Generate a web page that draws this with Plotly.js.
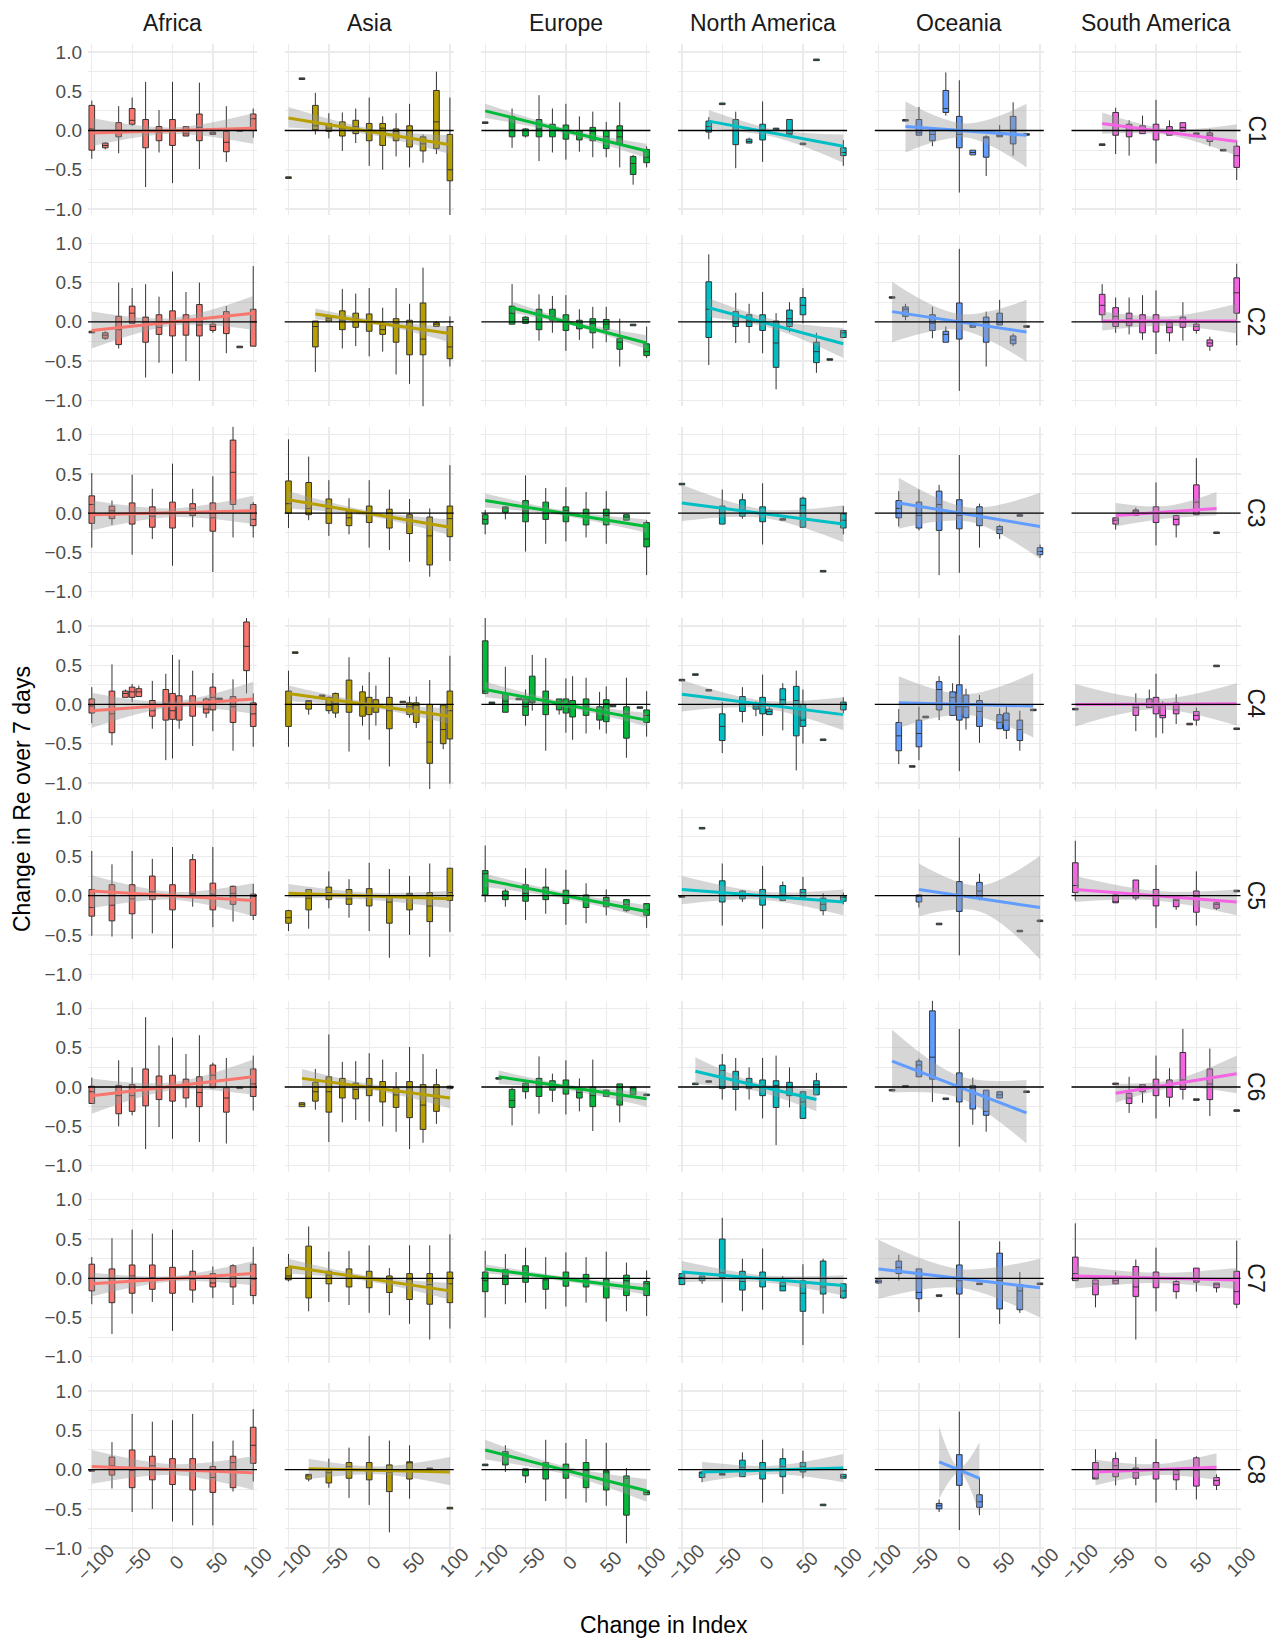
<!DOCTYPE html>
<html>
<head>
<meta charset="utf-8">
<script src="https://cdn.plot.ly/plotly-3.0.1.min.js"></script>
<style>html, body { margin: 0; padding: 0; background: #fff; }</style>
</head>
<body>
<div id="chart" style="width:1278px;height:1638px"></div>
<script>
var regions = ['Africa', 'Asia', 'Europe', 'North America', 'Oceania', 'South America'];
var measures = ['C1', 'C2', 'C3', 'C4', 'C5', 'C6', 'C7', 'C8'];
var regionColors = ['#F8766D', '#B79F00', '#00BA38', '#00BFC4', '#619CFF', '#F564E3'];
var xTickVals = [-100, -50, 0, 50, 100];
var xTickText = ['\u2212100', '\u221250', '0', '50', '100'];
var yTickVals = [-1, -0.5, 0, 0.5, 1];
var yTickText = ['\u22121.0', '\u22120.5', '0.0', '0.5', '1.0'];
var yMinorVals = [-0.75, -0.25, 0.25, 0.75];

// box stats, one row per box: [change in index, lower whisker, q1, median, q3, upper whisker]
var AF_C1 = [[-100,-0.36,-0.25,0.02,0.32,0.38],[-83.3,-0.24,-0.22,-0.19,-0.16,-0.15],[-66.7,-0.29,-0.08,-0.03,0.10,0.31],[-50,0.06,0.08,0.13,0.28,0.42],[-33.3,-0.72,-0.22,0.0,0.14,0.62],[-16.7,-0.28,-0.13,-0.02,0.05,0.26],[0,-0.67,-0.19,0.0,0.14,0.62],[16.7,-0.07,-0.07,-0.04,0.05,0.05],[33.3,-0.49,-0.13,0.04,0.21,0.61],[50,-0.05,-0.05,-0.03,-0.02,-0.02],[66.7,-0.40,-0.27,-0.15,-0.01,0.31],[83.3,-0.01,-0.01,0.0,0.01,0.01],[100,-0.09,0.0,0.15,0.21,0.28]];
var AS_C1 = [[-100,-0.61,-0.61,-0.60,-0.59,-0.59],[-83.3,0.65,0.65,0.66,0.67,0.67],[-66.7,-0.05,0.01,0.06,0.32,0.48],[-50,-0.10,-0.01,0.03,0.09,0.22],[-33.3,-0.26,-0.07,0.03,0.11,0.23],[-16.7,-0.16,-0.04,0.05,0.13,0.28],[0,-0.45,-0.13,0.01,0.09,0.42],[16.7,-0.50,-0.19,0.03,0.09,0.18],[33.3,-0.33,-0.13,-0.01,0.02,0.22],[50,-0.47,-0.21,0.0,0.06,0.34],[66.7,-0.41,-0.26,-0.17,-0.08,-0.05],[83.3,-0.30,-0.23,0.11,0.51,0.75],[100,-1.10,-0.64,-0.50,-0.05,0.42]];
var EU_C1 = [[-100,0.09,0.09,0.10,0.11,0.11],[-66.7,-0.22,-0.08,0.01,0.18,0.28],[-50,-0.09,-0.07,0.0,0.02,0.03],[-33.3,-0.39,-0.08,0.02,0.14,0.45],[-16.7,-0.28,-0.08,0.03,0.08,0.28],[0,-0.37,-0.11,0.0,0.07,0.34],[16.7,-0.27,-0.12,-0.04,0.0,0.18],[33.3,-0.34,-0.13,-0.01,0.04,0.24],[50,-0.34,-0.23,-0.08,0.0,0.11],[66.7,-0.47,-0.17,-0.08,0.06,0.36],[83.3,-0.69,-0.56,-0.42,-0.33,-0.31],[100,-0.47,-0.41,-0.34,-0.24,-0.20]];
var NA_C1 = [[-66.7,-0.11,-0.02,0.05,0.12,0.17],[-50,0.33,0.33,0.34,0.35,0.35],[-33.3,-0.48,-0.18,0.05,0.14,0.24],[-16.7,-0.16,-0.16,-0.14,-0.11,-0.09],[0,-0.40,-0.12,0.01,0.08,0.37],[16.7,0.01,0.01,0.02,0.03,0.03],[33.3,-0.05,-0.05,-0.04,0.14,0.14],[50,-0.18,-0.18,-0.17,-0.16,-0.16],[66.7,0.89,0.89,0.90,0.91,0.91],[100,-0.45,-0.32,-0.28,-0.22,-0.12]];
var OC_C1 = [[-66.7,0.12,0.12,0.13,0.14,0.14],[-50,-0.06,-0.06,-0.03,0.14,0.30],[-33.3,-0.20,-0.13,-0.05,0.02,0.02],[-16.7,0.19,0.23,0.28,0.51,0.74],[0,-0.79,-0.22,-0.05,0.18,0.64],[16.7,-0.31,-0.31,-0.28,-0.25,-0.25],[33.3,-0.58,-0.34,-0.08,-0.08,-0.06],[50,-0.08,-0.08,-0.06,-0.03,0.07],[66.7,-0.32,-0.17,0.0,0.18,0.36],[83.3,-0.06,-0.06,-0.05,-0.04,-0.04]];
var SA_C1 = [[-66.7,-0.19,-0.19,-0.18,-0.17,-0.17],[-50,-0.30,-0.06,0.06,0.23,0.29],[-33.3,-0.32,-0.08,0.0,0.08,0.13],[-16.7,-0.04,-0.04,0.02,0.06,0.19],[0,-0.42,-0.12,0.0,0.08,0.39],[16.7,-0.06,-0.06,0.0,0.05,0.13],[33.3,-0.01,-0.01,0.04,0.10,0.10],[50,-0.05,-0.05,-0.04,-0.03,-0.03],[66.7,-0.20,-0.14,-0.06,-0.03,0.02],[83.3,-0.26,-0.26,-0.25,-0.24,-0.24],[100,-0.63,-0.47,-0.32,-0.20,-0.12]];

var AF_C2 = [[-100,-0.14,-0.14,-0.13,-0.12,-0.12],[-83.3,-0.23,-0.21,-0.17,-0.14,-0.12],[-66.7,-0.34,-0.29,-0.10,0.07,0.50],[-50,-0.02,-0.02,0.11,0.20,0.43],[-33.3,-0.71,-0.26,0.0,0.06,0.48],[-16.7,-0.52,-0.16,-0.07,0.09,0.32],[0,-0.66,-0.18,0.0,0.14,0.64],[16.7,-0.50,-0.17,0.0,0.09,0.38],[33.3,-0.75,-0.18,-0.04,0.22,0.50],[50,-0.14,-0.11,-0.06,-0.03,-0.01],[66.7,-0.40,-0.15,0.08,0.13,0.20],[83.3,-0.33,-0.33,-0.32,-0.31,-0.31],[100,-0.31,-0.31,0.0,0.16,0.71]];
var AS_C2 = [[-66.7,-0.64,-0.32,-0.06,0.01,0.01],[-50,0.0,0.01,0.04,0.06,0.09],[-33.3,-0.34,-0.10,0.02,0.14,0.42],[-16.7,-0.31,-0.07,0.04,0.11,0.36],[0,-0.44,-0.12,0.0,0.10,0.43],[16.7,-0.38,-0.16,-0.10,-0.04,0.18],[33.3,-0.67,-0.26,-0.02,0.04,0.43],[50,-0.79,-0.42,-0.06,0.02,0.23],[66.7,-1.10,-0.42,-0.22,0.24,0.69],[83.3,-0.06,-0.06,-0.03,-0.01,0.01],[100,-0.57,-0.47,-0.32,-0.06,0.07]];
var EU_C2 = [[-66.7,-0.03,-0.03,0.11,0.20,0.48],[-50,-0.02,-0.02,0.03,0.06,0.07],[-33.3,-0.24,-0.10,0.09,0.16,0.35],[-16.7,-0.14,0.02,0.07,0.16,0.33],[0,-0.37,-0.11,0.02,0.09,0.34],[16.7,-0.23,-0.09,-0.02,0.02,0.16],[33.3,-0.34,-0.14,-0.02,0.04,0.19],[50,-0.26,-0.10,-0.03,0.03,0.19],[66.7,-0.57,-0.35,-0.26,-0.21,0.04],[83.3,-0.05,-0.05,-0.04,-0.03,-0.03],[100,-0.46,-0.43,-0.38,-0.28,-0.06]];
var NA_C2 = [[-66.7,-0.55,-0.20,0.16,0.51,0.86],[-33.3,-0.27,-0.06,-0.02,0.13,0.37],[-16.7,-0.27,-0.06,0.02,0.09,0.23],[0,-0.40,-0.11,0.0,0.09,0.38],[16.7,-0.86,-0.58,-0.27,0.01,0.11],[33.3,-0.13,-0.06,0.04,0.15,0.25],[50,-0.02,0.09,0.21,0.31,0.43],[66.7,-0.65,-0.52,-0.38,-0.26,-0.14],[83.3,-0.49,-0.49,-0.48,-0.47,-0.47],[100,-0.20,-0.20,-0.14,-0.11,-0.11]];
var OC_C2 = [[-83.3,0.30,0.30,0.31,0.32,0.32],[-66.7,0.02,0.07,0.16,0.19,0.23],[-33.3,-0.21,-0.11,-0.02,0.09,0.19],[-16.7,-0.26,-0.26,-0.16,-0.12,-0.06],[0,-0.88,-0.22,0.0,0.24,0.93],[16.7,-0.07,-0.07,-0.05,-0.02,-0.02],[33.3,-0.57,-0.26,-0.01,0.06,0.13],[50,-0.04,-0.04,-0.01,0.11,0.28],[66.7,-0.31,-0.28,-0.23,-0.18,-0.15],[83.3,-0.07,-0.07,-0.06,-0.05,-0.05]];
var SA_C2 = [[-66.7,0.0,0.09,0.21,0.35,0.48],[-50,-0.14,-0.06,0.07,0.18,0.31],[-33.3,-0.16,-0.05,0.04,0.11,0.31],[-16.7,-0.23,-0.14,0.0,0.09,0.34],[0,-0.41,-0.13,0.0,0.09,0.40],[16.7,-0.25,-0.14,-0.07,-0.01,0.03],[33.3,-0.24,-0.07,0.0,0.06,0.25],[50,-0.15,-0.11,-0.06,-0.03,-0.01],[66.7,-0.37,-0.31,-0.27,-0.23,-0.19],[100,-0.30,0.11,0.37,0.56,0.74]];

var AF_C3 = [[-100,-0.44,-0.13,0.11,0.22,0.51],[-75,-0.15,-0.07,0.03,0.09,0.16],[-50,-0.53,-0.14,0.0,0.13,0.49],[-25,-0.33,-0.18,-0.04,0.08,0.31],[0,-0.67,-0.19,0.0,0.14,0.63],[25,-0.18,-0.03,0.06,0.12,0.31],[50,-0.75,-0.23,-0.06,0.13,0.47],[75,-0.31,0.11,0.52,0.93,1.10],[100,-0.31,-0.16,-0.08,0.11,0.14]];
var AS_C3 = [[-100,-0.19,0.0,0.12,0.41,0.94],[-75,-0.09,-0.02,0.06,0.39,0.72],[-50,-0.29,-0.13,0.06,0.18,0.42],[-25,-0.27,-0.16,-0.06,0.03,0.19],[0,-0.44,-0.12,0.0,0.09,0.42],[25,-0.47,-0.19,0.0,0.05,0.30],[50,-0.62,-0.26,-0.05,-0.02,0.18],[75,-0.81,-0.66,-0.29,-0.05,0.06],[100,-0.61,-0.30,-0.07,0.09,0.61]];
var EU_C3 = [[-100,-0.27,-0.14,-0.08,-0.02,0.04],[-75,-0.08,0.01,0.06,0.08,0.09],[-50,-0.49,-0.11,0.03,0.16,0.48],[-25,-0.39,-0.08,0.03,0.14,0.32],[0,-0.36,-0.11,0.03,0.08,0.33],[25,-0.31,-0.15,-0.03,0.05,0.27],[50,-0.39,-0.15,-0.03,0.05,0.28],[75,-0.09,-0.09,-0.05,-0.02,-0.02],[100,-0.79,-0.43,-0.33,-0.12,-0.09]];
var NA_C3 = [[-100,0.36,0.36,0.37,0.38,0.38],[-50,-0.14,-0.14,0.06,0.09,0.30],[-25,-0.07,-0.04,0.04,0.17,0.25],[0,-0.40,-0.11,0.0,0.08,0.38],[25,-0.09,-0.09,-0.08,-0.07,-0.07],[50,-0.18,-0.18,0.10,0.19,0.21],[75,-0.75,-0.75,-0.74,-0.73,-0.73],[100,-0.27,-0.19,-0.09,-0.01,0.09]];
var OC_C3 = [[-75,-0.17,-0.06,0.06,0.16,0.28],[-50,-0.22,-0.19,-0.03,0.14,0.30],[-25,-0.79,-0.22,0.11,0.28,0.36],[0,-0.76,-0.20,-0.03,0.17,0.74],[25,-0.44,-0.16,-0.01,0.08,0.12],[50,-0.33,-0.26,-0.21,-0.17,-0.15],[75,-0.04,-0.04,-0.03,-0.02,-0.02],[100,-0.57,-0.53,-0.49,-0.44,-0.40]];
var SA_C3 = [[-50,-0.21,-0.14,-0.09,-0.06,-0.06],[-25,-0.03,-0.03,0.03,0.04,0.07],[0,-0.41,-0.12,0.0,0.08,0.39],[25,-0.31,-0.15,-0.08,-0.03,-0.02],[50,-0.02,-0.02,0.14,0.36,0.70],[75,-0.26,-0.26,-0.25,-0.24,-0.24]];

var AF_C4 = [[-100,-0.24,-0.11,-0.02,0.07,0.22],[-75,-0.52,-0.36,-0.12,0.17,0.51],[-58.3,0.09,0.09,0.14,0.17,0.19],[-50,0.03,0.09,0.16,0.22,0.26],[-41.7,0.10,0.10,0.16,0.20,0.24],[-25,-0.31,-0.15,-0.08,0.05,0.30],[-8.3,-0.71,-0.20,0.01,0.19,0.39],[0,-0.69,-0.19,-0.08,0.14,0.63],[8.3,-0.31,-0.20,-0.01,0.11,0.57],[25,-0.53,-0.15,0.01,0.11,0.43],[41.7,-0.17,-0.11,-0.06,0.07,0.09],[50,-0.34,-0.07,0.09,0.22,0.40],[58.3,0.06,0.06,0.07,0.08,0.08],[75,-0.59,-0.23,-0.03,0.10,0.32],[91.7,0.14,0.43,0.74,1.05,1.10],[100,-0.54,-0.28,-0.12,0.02,0.14]];
var AS_C4 = [[-100,-0.54,-0.28,0.0,0.17,0.43],[-91.7,0.65,0.65,0.66,0.67,0.67],[-75,-0.13,-0.06,0.04,0.05,0.05],[-58.3,0.10,0.10,0.11,0.12,0.12],[-50,-0.12,-0.08,-0.01,0.09,0.10],[-41.7,-0.17,-0.11,0.01,0.14,0.15],[-25,-0.60,-0.10,0.03,0.31,0.60],[-8.3,-0.27,-0.15,-0.01,0.16,0.24],[0,-0.45,-0.13,0.0,0.09,0.41],[8.3,-0.27,-0.10,-0.03,0.06,0.24],[25,-0.79,-0.31,-0.08,0.09,0.60],[41.7,0.02,0.02,0.03,0.04,0.04],[50,-0.17,-0.13,-0.03,0.02,0.10],[58.3,-0.30,-0.23,-0.01,0.02,0.10],[75,-1.08,-0.75,-0.48,0.0,0.31],[91.7,-0.57,-0.50,-0.32,-0.01,-0.01],[100,-1.01,-0.44,-0.08,0.17,0.62]];
var EU_C4 = [[-100,0.13,0.14,0.17,0.81,1.10],[-91.7,0.01,0.01,0.02,0.03,0.03],[-75,-0.10,-0.10,0.04,0.14,0.48],[-58.3,0.06,0.06,0.07,0.08,0.08],[-50,-0.27,-0.14,-0.03,0.07,0.19],[-41.7,-0.08,0.02,0.04,0.36,0.63],[-25,-0.59,-0.13,0.06,0.17,0.59],[-8.3,-0.13,-0.07,0.03,0.07,0.07],[0,-0.36,-0.11,0.01,0.07,0.33],[8.3,-0.45,-0.16,-0.01,0.05,0.36],[25,-0.37,-0.14,-0.03,0.07,0.34],[41.7,-0.32,-0.20,-0.08,-0.03,0.16],[50,-0.37,-0.22,0.01,0.06,0.23],[58.3,-0.03,-0.03,-0.02,-0.01,-0.01],[75,-0.68,-0.43,-0.12,-0.03,0.34],[91.7,-0.05,-0.05,-0.04,-0.03,-0.03],[100,-0.41,-0.23,-0.14,-0.07,0.17]];
var NA_C4 = [[-100,0.30,0.30,0.31,0.32,0.32],[-83.3,0.37,0.37,0.38,0.39,0.39],[-66.7,0.17,0.17,0.18,0.19,0.19],[-50,-0.62,-0.46,-0.28,-0.12,0.03],[-25,-0.23,-0.09,0.02,0.10,0.22],[-8.3,-0.15,-0.06,-0.03,0.0,0.04],[0,-0.40,-0.12,-0.02,0.09,0.38],[8.3,-0.13,-0.13,-0.09,-0.06,-0.03],[25,-0.33,0.0,0.06,0.20,0.27],[41.7,-0.84,-0.40,0.05,0.23,0.43],[50,-0.50,-0.28,-0.20,0.0,0.19],[75,-0.46,-0.46,-0.45,-0.44,-0.44],[100,-0.11,-0.07,0.0,0.03,0.09]];
var OC_C4 = [[-75,-0.76,-0.59,-0.40,-0.23,-0.06],[-58.3,-0.80,-0.80,-0.79,-0.78,-0.78],[-50,-0.71,-0.54,-0.37,-0.20,-0.03],[-41.7,-0.17,-0.17,-0.16,-0.15,-0.15],[-25,-0.20,-0.07,0.19,0.29,0.36],[-8.3,-0.14,-0.14,0.09,0.16,0.27],[0,-0.85,-0.20,-0.03,0.25,0.88],[8.3,-0.32,-0.17,-0.03,0.12,0.20],[25,-0.49,-0.28,-0.09,0.05,0.12],[50,-0.31,-0.31,-0.23,-0.13,-0.05],[58.3,-0.44,-0.33,-0.20,-0.11,-0.01],[75,-0.59,-0.46,-0.32,-0.20,-0.08],[91.7,-0.08,-0.08,-0.07,-0.06,-0.06]];
var SA_C4 = [[-100,-0.07,-0.07,-0.06,-0.05,-0.05],[-25,-0.34,-0.14,-0.04,-0.01,0.14],[-8.3,-0.04,-0.04,0.01,0.07,0.19],[0,-0.42,-0.12,-0.01,0.09,0.39],[8.3,-0.37,-0.17,-0.14,-0.01,0.04],[25,-0.25,-0.12,-0.07,0.02,0.13],[41.7,-0.26,-0.26,-0.25,-0.24,-0.24],[50,-0.27,-0.20,-0.14,-0.09,-0.04],[75,0.48,0.48,0.49,0.50,0.50],[100,-0.32,-0.32,-0.31,-0.30,-0.30]];

var AF_C5 = [[-100,-0.51,-0.26,-0.15,0.08,0.57],[-75,-0.52,-0.32,-0.12,0.14,0.40],[-50,-0.55,-0.23,-0.04,0.14,0.57],[-25,-0.48,-0.05,0.05,0.25,0.47],[0,-0.67,-0.18,0.0,0.14,0.62],[25,-0.14,0.01,0.03,0.46,0.53],[50,-0.40,-0.18,0.02,0.16,0.62],[75,-0.33,-0.11,0.03,0.12,0.13],[100,-0.31,-0.25,-0.01,0.02,0.15]];
var AS_C5 = [[-100,-0.45,-0.35,-0.28,-0.19,-0.18],[-75,-0.42,-0.18,-0.03,0.08,0.08],[-50,-0.16,-0.05,0.04,0.11,0.31],[-25,-0.28,-0.11,-0.04,0.08,0.21],[0,-0.45,-0.13,-0.01,0.09,0.42],[25,-0.79,-0.35,-0.08,-0.02,0.34],[50,-0.50,-0.18,0.01,0.03,0.25],[75,-0.78,-0.33,-0.13,0.04,0.41],[100,-0.46,-0.06,0.04,0.35,0.35]];
var EU_C5 = [[-100,-0.08,0.01,0.28,0.32,0.64],[-75,-0.14,-0.05,0.01,0.06,0.09],[-50,-0.31,-0.07,0.03,0.14,0.35],[-25,-0.23,-0.05,0.05,0.11,0.35],[0,-0.37,-0.10,0.0,0.07,0.33],[25,-0.35,-0.15,-0.04,0.01,0.16],[50,-0.25,-0.14,-0.06,-0.02,0.08],[75,-0.21,-0.19,-0.11,-0.05,-0.04],[100,-0.41,-0.25,-0.18,-0.10,-0.10]];
var NA_C5 = [[-100,-0.02,-0.02,-0.01,0.0,0.0],[-75,0.85,0.85,0.86,0.87,0.87],[-50,-0.38,-0.08,0.04,0.19,0.41],[-25,-0.08,-0.04,0.0,0.06,0.07],[0,-0.42,-0.12,-0.01,0.08,0.38],[25,-0.06,-0.06,0.01,0.13,0.18],[50,-0.02,-0.02,0.04,0.08,0.24],[75,-0.25,-0.19,-0.11,-0.03,0.03],[100,-0.11,-0.07,-0.02,0.0,0.04]];
var OC_C5 = [[-50,-0.15,-0.08,-0.01,0.01,0.01],[-25,-0.37,-0.37,-0.36,-0.35,-0.35],[0,-0.76,-0.20,0.0,0.18,0.74],[25,-0.06,-0.02,0.06,0.17,0.28],[75,-0.46,-0.46,-0.45,-0.44,-0.44],[100,-0.33,-0.33,-0.32,-0.31,-0.31]];
var SA_C5 = [[-100,-0.06,0.04,0.13,0.42,0.70],[-50,-0.09,-0.09,-0.08,0.01,0.02],[-25,-0.06,-0.03,0.02,0.20,0.20],[0,-0.41,-0.13,0.01,0.08,0.39],[25,-0.18,-0.14,-0.06,-0.04,-0.02],[50,-0.38,-0.21,-0.01,0.06,0.31],[75,-0.18,-0.16,-0.11,-0.09,-0.08],[100,0.05,0.05,0.06,0.07,0.07]];

var AF_C6 = [[-100,-0.21,-0.21,-0.06,0.01,0.12],[-66.7,-0.50,-0.34,-0.11,0.02,0.34],[-50,-0.36,-0.31,-0.11,0.03,0.25],[-33.3,-0.79,-0.24,0.0,0.23,0.89],[-16.7,-0.51,-0.16,0.01,0.14,0.53],[0,-0.66,-0.18,0.02,0.15,0.63],[16.7,-0.26,-0.14,0.02,0.10,0.42],[33.3,-0.70,-0.25,-0.07,0.13,0.66],[50,-0.01,-0.01,0.15,0.28,0.31],[66.7,-0.72,-0.32,-0.14,-0.01,0.37],[83.3,-0.02,-0.02,-0.01,0.0,0.0],[100,-0.30,-0.12,0.04,0.23,0.40]];
var AS_C6 = [[-83.3,-0.25,-0.25,-0.22,-0.20,-0.20],[-66.7,-0.29,-0.18,-0.06,0.06,0.23],[-50,-0.70,-0.32,-0.06,0.13,0.67],[-33.3,-0.45,-0.14,0.04,0.11,0.32],[-16.7,-0.42,-0.15,-0.03,0.05,0.33],[0,-0.44,-0.11,0.02,0.11,0.43],[16.7,-0.50,-0.19,0.0,0.07,0.35],[33.3,-0.57,-0.26,-0.10,-0.01,0.19],[50,-0.79,-0.39,-0.01,0.07,0.51],[66.7,-0.71,-0.54,-0.23,0.03,0.42],[83.3,-0.47,-0.31,-0.14,0.03,0.23],[100,-0.03,-0.02,-0.01,0.01,0.02]];
var EU_C6 = [[-83.3,0.10,0.10,0.11,0.12,0.12],[-66.7,-0.49,-0.26,-0.17,-0.03,-0.01],[-50,-0.15,-0.06,0.0,0.05,0.06],[-33.3,-0.34,-0.12,0.04,0.11,0.39],[-16.7,-0.19,-0.04,0.02,0.08,0.17],[0,-0.35,-0.09,0.02,0.09,0.34],[16.7,-0.31,-0.14,-0.07,-0.03,0.11],[33.3,-0.56,-0.25,-0.11,0.0,0.35],[50,-0.12,-0.12,-0.07,-0.04,-0.03],[66.7,-0.45,-0.23,-0.11,0.04,0.04],[83.3,-0.10,-0.10,-0.01,0.0,0.0],[100,-0.11,-0.11,-0.10,-0.09,-0.09]];
var NA_C6 = [[-83.3,0.03,0.03,0.04,0.05,0.05],[-66.7,0.06,0.06,0.07,0.08,0.08],[-50,-0.16,-0.02,0.21,0.28,0.42],[-33.3,-0.30,-0.03,0.09,0.20,0.37],[-16.7,-0.16,-0.02,0.06,0.11,0.25],[0,-0.40,-0.11,0.02,0.09,0.37],[16.7,-0.74,-0.26,0.02,0.08,0.40],[33.3,-0.26,-0.11,0.0,0.06,0.25],[50,-0.40,-0.40,-0.19,-0.06,-0.06],[66.7,-0.10,-0.10,0.03,0.08,0.18]];
var OC_C6 = [[-83.3,-0.05,-0.05,-0.04,-0.03,-0.03],[-66.7,0.0,0.0,0.01,0.02,0.02],[-50,0.13,0.13,0.28,0.33,0.36],[-33.3,-0.19,0.10,0.38,0.97,1.10],[-16.7,-0.16,-0.16,-0.15,-0.14,-0.14],[0,-0.76,-0.19,0.0,0.18,0.74],[16.7,-0.48,-0.28,-0.02,0.02,0.12],[33.3,-0.57,-0.36,-0.31,-0.04,-0.04],[50,-0.14,-0.14,-0.10,-0.06,-0.06],[83.3,-0.07,-0.07,-0.06,-0.05,-0.05]];
var SA_C6 = [[-50,0.03,0.03,0.04,0.05,0.05],[-33.3,-0.33,-0.21,-0.14,-0.08,0.13],[-16.7,-0.20,-0.06,-0.01,0.03,0.03],[0,-0.40,-0.11,0.02,0.10,0.40],[16.7,-0.25,-0.13,0.0,0.09,0.24],[33.3,-0.16,-0.03,0.09,0.44,0.74],[50,-0.17,-0.17,-0.16,-0.15,-0.15],[66.7,-0.37,-0.16,0.04,0.23,0.49],[100,-0.31,-0.31,-0.30,-0.29,-0.29]];

var AF_C7 = [[-100,-0.33,-0.16,0.0,0.18,0.27],[-75,-0.71,-0.31,-0.05,0.12,0.51],[-50,-0.45,-0.19,0.03,0.17,0.62],[-25,-0.30,-0.14,0.01,0.17,0.57],[0,-0.67,-0.19,0.0,0.14,0.62],[25,-0.31,-0.15,-0.01,0.09,0.36],[50,-0.25,-0.11,-0.06,0.06,0.15],[75,-0.34,-0.11,0.03,0.16,0.18],[100,-0.33,-0.22,-0.01,0.18,0.40]];
var AS_C7 = [[-100,-0.04,-0.02,0.03,0.14,0.31],[-75,-0.42,-0.25,0.0,0.41,0.66],[-50,-0.30,-0.07,0.04,0.09,0.34],[-25,-0.34,-0.11,0.03,0.12,0.35],[0,-0.44,-0.12,0.0,0.09,0.42],[25,-0.47,-0.18,-0.02,0.03,0.13],[50,-0.58,-0.27,-0.01,0.06,0.42],[75,-0.78,-0.33,-0.08,0.06,0.42],[100,-0.64,-0.31,-0.07,0.08,0.56]];
var EU_C7 = [[-100,-0.50,-0.17,-0.03,0.08,0.35],[-75,-0.33,-0.08,0.03,0.11,0.31],[-50,-0.31,-0.05,0.07,0.16,0.39],[-25,-0.39,-0.14,-0.02,0.0,0.27],[0,-0.36,-0.10,0.01,0.08,0.33],[25,-0.31,-0.11,-0.02,0.05,0.27],[50,-0.55,-0.25,-0.08,-0.01,0.34],[75,-0.42,-0.22,-0.03,0.04,0.20],[100,-0.48,-0.22,-0.07,-0.04,0.10]];
var NA_C7 = [[-100,-0.08,-0.08,0.01,0.06,0.06],[-75,-0.07,-0.03,0.0,0.03,0.03],[-50,-0.31,0.01,0.07,0.50,0.77],[-25,-0.42,-0.15,-0.04,0.09,0.25],[0,-0.40,-0.11,0.0,0.08,0.38],[25,-0.16,-0.16,-0.10,-0.05,0.03],[50,-0.85,-0.42,-0.19,-0.03,0.18],[75,-0.45,-0.20,-0.11,0.22,0.25],[100,-0.26,-0.25,-0.16,-0.07,-0.06]];
var OC_C7 = [[-100,-0.07,-0.06,-0.04,-0.02,-0.02],[-75,-0.03,0.06,0.14,0.22,0.30],[-50,-0.43,-0.26,-0.18,0.12,0.12],[-25,-0.23,-0.23,-0.22,-0.21,-0.21],[0,-0.76,-0.20,-0.03,0.17,0.73],[25,-0.08,-0.08,-0.07,-0.06,-0.06],[50,-0.58,-0.39,-0.03,0.32,0.47],[75,-0.44,-0.40,-0.16,-0.08,0.08],[100,-0.08,-0.08,-0.07,-0.06,-0.06]];
var SA_C7 = [[-100,-0.03,-0.03,0.06,0.27,0.70],[-75,-0.37,-0.21,-0.07,-0.02,-0.02],[-50,-0.07,-0.07,-0.03,0.01,0.08],[-25,-0.78,-0.23,-0.11,0.15,0.24],[0,-0.42,-0.12,0.01,0.08,0.39],[25,-0.26,-0.17,-0.08,-0.04,-0.02],[50,-0.17,-0.05,-0.03,0.13,0.13],[75,-0.18,-0.12,-0.08,-0.06,-0.06],[100,-0.38,-0.33,-0.17,0.09,0.48]];

var AF_C8 = [[-100,-0.02,-0.02,-0.01,0.0,0.0],[-75,-0.24,-0.07,0.05,0.16,0.35],[-50,-0.54,-0.23,-0.01,0.25,0.71],[-25,-0.50,-0.13,0.05,0.17,0.61],[0,-0.66,-0.19,-0.01,0.14,0.63],[25,-0.71,-0.26,0.0,0.14,0.71],[50,-0.71,-0.29,-0.10,0.04,0.36],[75,-0.28,-0.23,0.09,0.17,0.37],[100,-0.15,0.08,0.31,0.54,0.77]];
var AS_C8 = [[-75,-0.15,-0.12,-0.08,-0.06,-0.06],[-50,-0.23,-0.17,-0.04,-0.01,0.14],[-25,-0.36,-0.11,0.04,0.09,0.28],[0,-0.45,-0.13,0.0,0.09,0.43],[25,-0.80,-0.28,-0.03,0.06,0.37],[50,-0.37,-0.12,0.09,0.10,0.31],[75,0.0,0.0,0.01,0.02,0.02],[100,-0.50,-0.50,-0.49,-0.48,-0.48]];
var EU_C8 = [[-100,0.05,0.05,0.06,0.07,0.07],[-75,-0.03,0.06,0.20,0.23,0.31],[-50,-0.17,-0.08,-0.01,0.01,0.01],[-25,-0.40,-0.12,0.05,0.09,0.38],[0,-0.37,-0.11,0.0,0.07,0.34],[25,-0.42,-0.23,-0.01,0.09,0.39],[50,-0.46,-0.26,-0.03,-0.01,0.34],[75,-0.94,-0.58,-0.11,-0.08,0.02],[100,-0.32,-0.32,-0.29,-0.27,-0.27]];
var NA_C8 = [[-75,-0.16,-0.10,-0.04,-0.03,-0.02],[-50,-0.07,-0.07,-0.06,-0.05,-0.05],[-25,-0.09,-0.09,0.03,0.12,0.22],[0,-0.42,-0.12,0.0,0.09,0.38],[25,-0.31,-0.09,0.04,0.14,0.27],[50,-0.11,-0.03,0.04,0.09,0.24],[75,-0.46,-0.46,-0.45,-0.44,-0.44],[100,-0.11,-0.11,-0.09,-0.06,-0.06]];
var OC_C8 = [[-25,-0.54,-0.50,-0.46,-0.43,-0.38],[0,-0.77,-0.20,0.0,0.19,0.74],[25,-0.58,-0.48,-0.41,-0.32,-0.11]];
var SA_C8 = [[-75,-0.12,-0.12,-0.12,0.09,0.26],[-50,-0.20,-0.09,0.05,0.14,0.22],[-25,-0.20,-0.11,-0.03,0.02,0.16],[0,-0.42,-0.12,0.0,0.09,0.39],[25,-0.26,-0.13,-0.06,-0.01,-0.01],[50,-0.38,-0.21,-0.01,0.15,0.17],[75,-0.26,-0.20,-0.14,-0.10,-0.06]];

// linear fits, one row per measure C1..C8:
// [x start, x middle, x end, fit at start, fit at end, band low start, band low middle, band low end, band high start, band high middle, band high end]
var FIT_AF = [[-100,0,100,-0.03,0.03,-0.20,-0.04,-0.17,0.16,0.04,0.22],[-100,0,100,-0.11,0.11,-0.34,-0.05,-0.10,0.13,0.05,0.33],[-100,0,100,-0.02,0.03,-0.22,-0.05,-0.14,0.16,0.06,0.22],[-100,0,100,-0.08,0.07,-0.30,-0.04,-0.12,0.15,0.04,0.29],[-100,0,100,0.06,-0.06,-0.16,-0.05,-0.26,0.26,0.05,0.16],[-100,0,100,-0.11,0.13,-0.34,-0.04,-0.10,0.11,0.06,0.35],[-100,0,100,-0.07,0.06,-0.23,-0.04,-0.09,0.07,0.03,0.22],[-100,0,100,0.04,-0.04,-0.18,-0.07,-0.26,0.25,0.07,0.17]];
var FIT_AS = [[-100,0,100,0.16,-0.18,0.04,-0.05,-0.30,0.30,0.03,-0.06],[-66.7,16.7,100,0.10,-0.15,0.03,-0.05,-0.26,0.17,0.01,-0.06],[-100,0,100,0.17,-0.18,0.06,-0.04,-0.28,0.28,0.03,-0.08],[-100,0,100,0.14,-0.15,0.04,-0.04,-0.25,0.24,0.03,-0.05],[-100,0,100,0.03,-0.04,-0.03,-0.05,-0.16,0.15,0.04,0.06],[-83.3,8.3,100,0.11,-0.14,0.0,-0.05,-0.27,0.23,0.03,0.0],[-100,0,100,0.15,-0.16,0.06,-0.04,-0.27,0.25,0.03,-0.06],[-75,12.5,100,0.01,-0.03,-0.12,-0.06,-0.20,0.14,0.04,0.16]];
var FIT_EU = [[-100,0,100,0.25,-0.26,0.16,-0.04,-0.35,0.34,0.03,-0.17],[-66.7,16.7,100,0.18,-0.27,0.12,-0.07,-0.35,0.26,-0.01,-0.17],[-100,0,100,0.16,-0.17,0.07,-0.04,-0.25,0.25,0.03,-0.08],[-100,0,100,0.19,-0.20,0.09,-0.04,-0.28,0.29,0.03,-0.11],[-100,0,100,0.20,-0.20,0.11,-0.04,-0.29,0.28,0.04,-0.12],[-83.3,8.3,100,0.13,-0.15,0.04,-0.05,-0.25,0.21,0.02,-0.06],[-100,0,100,0.12,-0.14,0.06,-0.04,-0.21,0.18,0.02,-0.07],[-100,0,100,0.25,-0.27,0.13,-0.06,-0.41,0.38,0.04,-0.12]];
var FIT_NA = [[-66.7,16.7,100,0.12,-0.20,0.03,-0.09,-0.41,0.26,0.01,-0.05],[-66.7,16.7,100,0.18,-0.28,0.06,-0.10,-0.46,0.30,0.02,-0.08],[-100,0,100,0.13,-0.14,-0.10,-0.06,-0.37,0.36,0.05,0.10],[-100,0,100,0.13,-0.13,-0.09,-0.05,-0.33,0.31,0.05,0.09],[-100,0,100,0.08,-0.08,-0.11,-0.05,-0.25,0.25,0.05,0.08],[-83.3,-8.3,66.7,0.20,-0.16,0.04,-0.05,-0.31,0.38,0.06,-0.03],[-100,0,100,0.08,-0.09,-0.05,-0.05,-0.22,0.22,0.04,0.04],[-75,12.5,100,-0.03,0.02,-0.16,-0.06,-0.16,0.10,0.05,0.20]];
var FIT_OC = [[-66.7,8.3,83.3,0.05,-0.06,-0.28,-0.09,-0.47,0.37,0.09,0.34],[-83.3,0,83.3,0.13,-0.13,-0.26,-0.10,-0.51,0.51,0.10,0.28],[-75,12.5,100,0.13,-0.17,-0.20,-0.11,-0.58,0.45,0.07,0.26],[-75,8.3,91.7,0.02,-0.02,-0.30,-0.13,-0.42,0.36,0.13,0.40],[-50,25,100,0.08,-0.15,-0.26,-0.20,-0.81,0.41,0.13,0.51],[-83.3,0,83.3,0.33,-0.33,-0.07,-0.14,-0.72,0.73,0.14,0.09],[-100,0,100,0.12,-0.12,-0.26,-0.12,-0.50,0.49,0.12,0.25],[-25,0,25,0.10,-0.11,-0.37,-0.04,-0.58,0.55,0.03,0.35]];
var FIT_SA = [[-66.7,16.7,100,0.09,-0.14,-0.04,-0.06,-0.32,0.23,0.02,0.08],[-66.7,16.7,100,0.01,0.01,-0.11,-0.05,-0.15,0.13,0.07,0.23],[-50,12.5,75,-0.03,0.06,-0.17,-0.07,-0.03,0.13,0.09,0.27],[-100,0,100,0.0,0.01,-0.28,-0.06,-0.27,0.26,0.07,0.27],[-100,0,100,0.08,-0.08,-0.08,-0.06,-0.25,0.25,0.06,0.08],[-50,25,100,-0.08,0.17,-0.20,-0.01,-0.08,0.04,0.10,0.40],[-100,0,100,0.03,-0.02,-0.13,-0.06,-0.14,0.16,0.07,0.13],[-75,0,75,-0.03,0.03,-0.20,-0.07,-0.13,0.13,0.07,0.21]];

var boxSets = [
    [AF_C1, AS_C1, EU_C1, NA_C1, OC_C1, SA_C1],
    [AF_C2, AS_C2, EU_C2, NA_C2, OC_C2, SA_C2],
    [AF_C3, AS_C3, EU_C3, NA_C3, OC_C3, SA_C3],
    [AF_C4, AS_C4, EU_C4, NA_C4, OC_C4, SA_C4],
    [AF_C5, AS_C5, EU_C5, NA_C5, OC_C5, SA_C5],
    [AF_C6, AS_C6, EU_C6, NA_C6, OC_C6, SA_C6],
    [AF_C7, AS_C7, EU_C7, NA_C7, OC_C7, SA_C7],
    [AF_C8, AS_C8, EU_C8, NA_C8, OC_C8, SA_C8]
];
var fitSets = [FIT_AF, FIT_AS, FIT_EU, FIT_NA, FIT_OC, FIT_SA];

// page geometry in pixels
var pageW = 1278, pageH = 1638;
var panelLeft = 88, colStep = 196.7, panelW = 169;
var panelTop = 44, rowStep = 191.3, panelH = 171;
var xRange = [-104.7, 104.7];
var yRange = [-1.076, 1.102];
var fontFamily = 'Liberation Sans, Arial, sans-serif';
var gridColor = '#ebebeb';

function column(rows, k) {
    return rows.map(function(row) { return row[k]; });
}

// centred text placed in page pixels
function pageLabel(px, py, text, size, color, angle) {
    return {
        xref: 'paper', yref: 'paper',
        x: px / pageW, y: 1 - py / pageH,
        xanchor: 'center', yanchor: 'middle',
        text: text,
        textangle: angle || 0,
        showarrow: false,
        font: { size: size, color: color, family: fontFamily }
    };
}

var data = [];
var shapes = [];
var annotations = [];
var layout = {
    width: pageW,
    height: pageH,
    margin: { l: 0, r: 0, t: 0, b: 0 },
    paper_bgcolor: '#ffffff',
    plot_bgcolor: 'rgba(0,0,0,0)',
    showlegend: false,
    font: { family: fontFamily, color: '#4d4d4d' }
};

for (var r = 0; r < measures.length; r++) {
    for (var c = 0; c < regions.length; c++) {
        var n = r * regions.length + c + 1;
        var suffix = n === 1 ? '' : String(n);
        var xa = 'x' + suffix, ya = 'y' + suffix;
        var boxLeft = panelLeft + c * colStep;
        var boxTop = panelTop + r * rowStep;

        layout['xaxis' + suffix] = {
            domain: [boxLeft / pageW, (boxLeft + panelW) / pageW],
            anchor: ya,
            range: xRange,
            tickvals: xTickVals,
            showticklabels: false,
            showgrid: true,
            gridcolor: gridColor,
            gridwidth: 1.3,
            zeroline: false,
            showline: false,
            ticks: '',
            fixedrange: true
        };
        layout['yaxis' + suffix] = {
            domain: [1 - (boxTop + panelH) / pageH, 1 - boxTop / pageH],
            anchor: xa,
            range: yRange,
            tickvals: yTickVals,
            ticktext: yTickText,
            showticklabels: c === 0,
            tickfont: { size: 19, color: '#4d4d4d', family: fontFamily },
            ticklabelstandoff: 5,
            showgrid: true,
            gridcolor: gridColor,
            gridwidth: 1.3,
            minor: { tickvals: yMinorVals, showgrid: true, gridcolor: gridColor, gridwidth: 1, ticks: '' },
            zeroline: false,
            showline: false,
            ticks: '',
            fixedrange: true
        };

        var stats = boxSets[r][c];
        var color = regionColors[c];
        data.push({
            type: 'box',
            xaxis: xa, yaxis: ya,
            x: column(stats, 0),
            lowerfence: column(stats, 1),
            q1: column(stats, 2),
            median: column(stats, 3),
            q3: column(stats, 4),
            upperfence: column(stats, 5),
            width: 7,
            whiskerwidth: 0,
            boxpoints: false,
            fillcolor: color,
            line: { color: '#333333', width: 1 },
            hoverinfo: 'skip'
        });

        // confidence band then fitted line
        var f = fitSets[c][r];
        data.push({
            type: 'scatter', mode: 'lines', xaxis: xa, yaxis: ya,
            x: [f[0], f[1], f[2]], y: [f[5], f[6], f[7]],
            line: { width: 0, shape: 'spline', smoothing: 1 },
            hoverinfo: 'skip'
        });
        data.push({
            type: 'scatter', mode: 'lines', xaxis: xa, yaxis: ya,
            x: [f[0], f[1], f[2]], y: [f[8], f[9], f[10]],
            line: { width: 0, shape: 'spline', smoothing: 1 },
            fill: 'tonexty',
            fillcolor: 'rgba(153,153,153,0.4)',
            hoverinfo: 'skip'
        });
        data.push({
            type: 'scatter', mode: 'lines', xaxis: xa, yaxis: ya,
            x: [f[0], f[2]], y: [f[3], f[4]],
            line: { color: color, width: 3 },
            hoverinfo: 'skip'
        });

        shapes.push({
            type: 'line', xref: xa + ' domain', yref: ya,
            x0: 0, x1: 1, y0: 0, y1: 0,
            line: { color: '#000000', width: 1.3 }
        });

        // rotated x tick labels under the bottom row
        if (r === measures.length - 1) {
            for (var t = 0; t < xTickVals.length; t++) {
                annotations.push({
                    xref: xa, yref: 'paper',
                    x: xTickVals[t], y: 1 - 1562 / pageH,
                    xanchor: 'center', yanchor: 'middle',
                    text: xTickText[t],
                    textangle: -45,
                    xshift: 4,
                    showarrow: false,
                    font: { size: 19, color: '#4d4d4d', family: fontFamily }
                });
            }
        }
    }
}

// strip labels
for (var c2 = 0; c2 < regions.length; c2++) {
    annotations.push(pageLabel(panelLeft + c2 * colStep + panelW / 2, 23, regions[c2], 23, '#1a1a1a'));
}
for (var r2 = 0; r2 < measures.length; r2++) {
    annotations.push(pageLabel(1256, panelTop + r2 * rowStep + panelH / 2, measures[r2], 23, '#1a1a1a', 90));
}

// axis titles
var gridBottom = panelTop + 7 * rowStep + panelH;
var gridRight = panelLeft + 5 * colStep + panelW;
annotations.push(pageLabel(22, (panelTop + gridBottom) / 2, 'Change in Re over 7 days', 23, '#000000', -90));
annotations.push(pageLabel((panelLeft + gridRight) / 2, 1625, 'Change in Index', 23, '#000000'));

layout.shapes = shapes;
layout.annotations = annotations;

var config = {
    displayModeBar: false,
    staticPlot: true,
    responsive: false
};

Plotly.newPlot('chart', data, layout, config);
</script>
</body>
</html>
